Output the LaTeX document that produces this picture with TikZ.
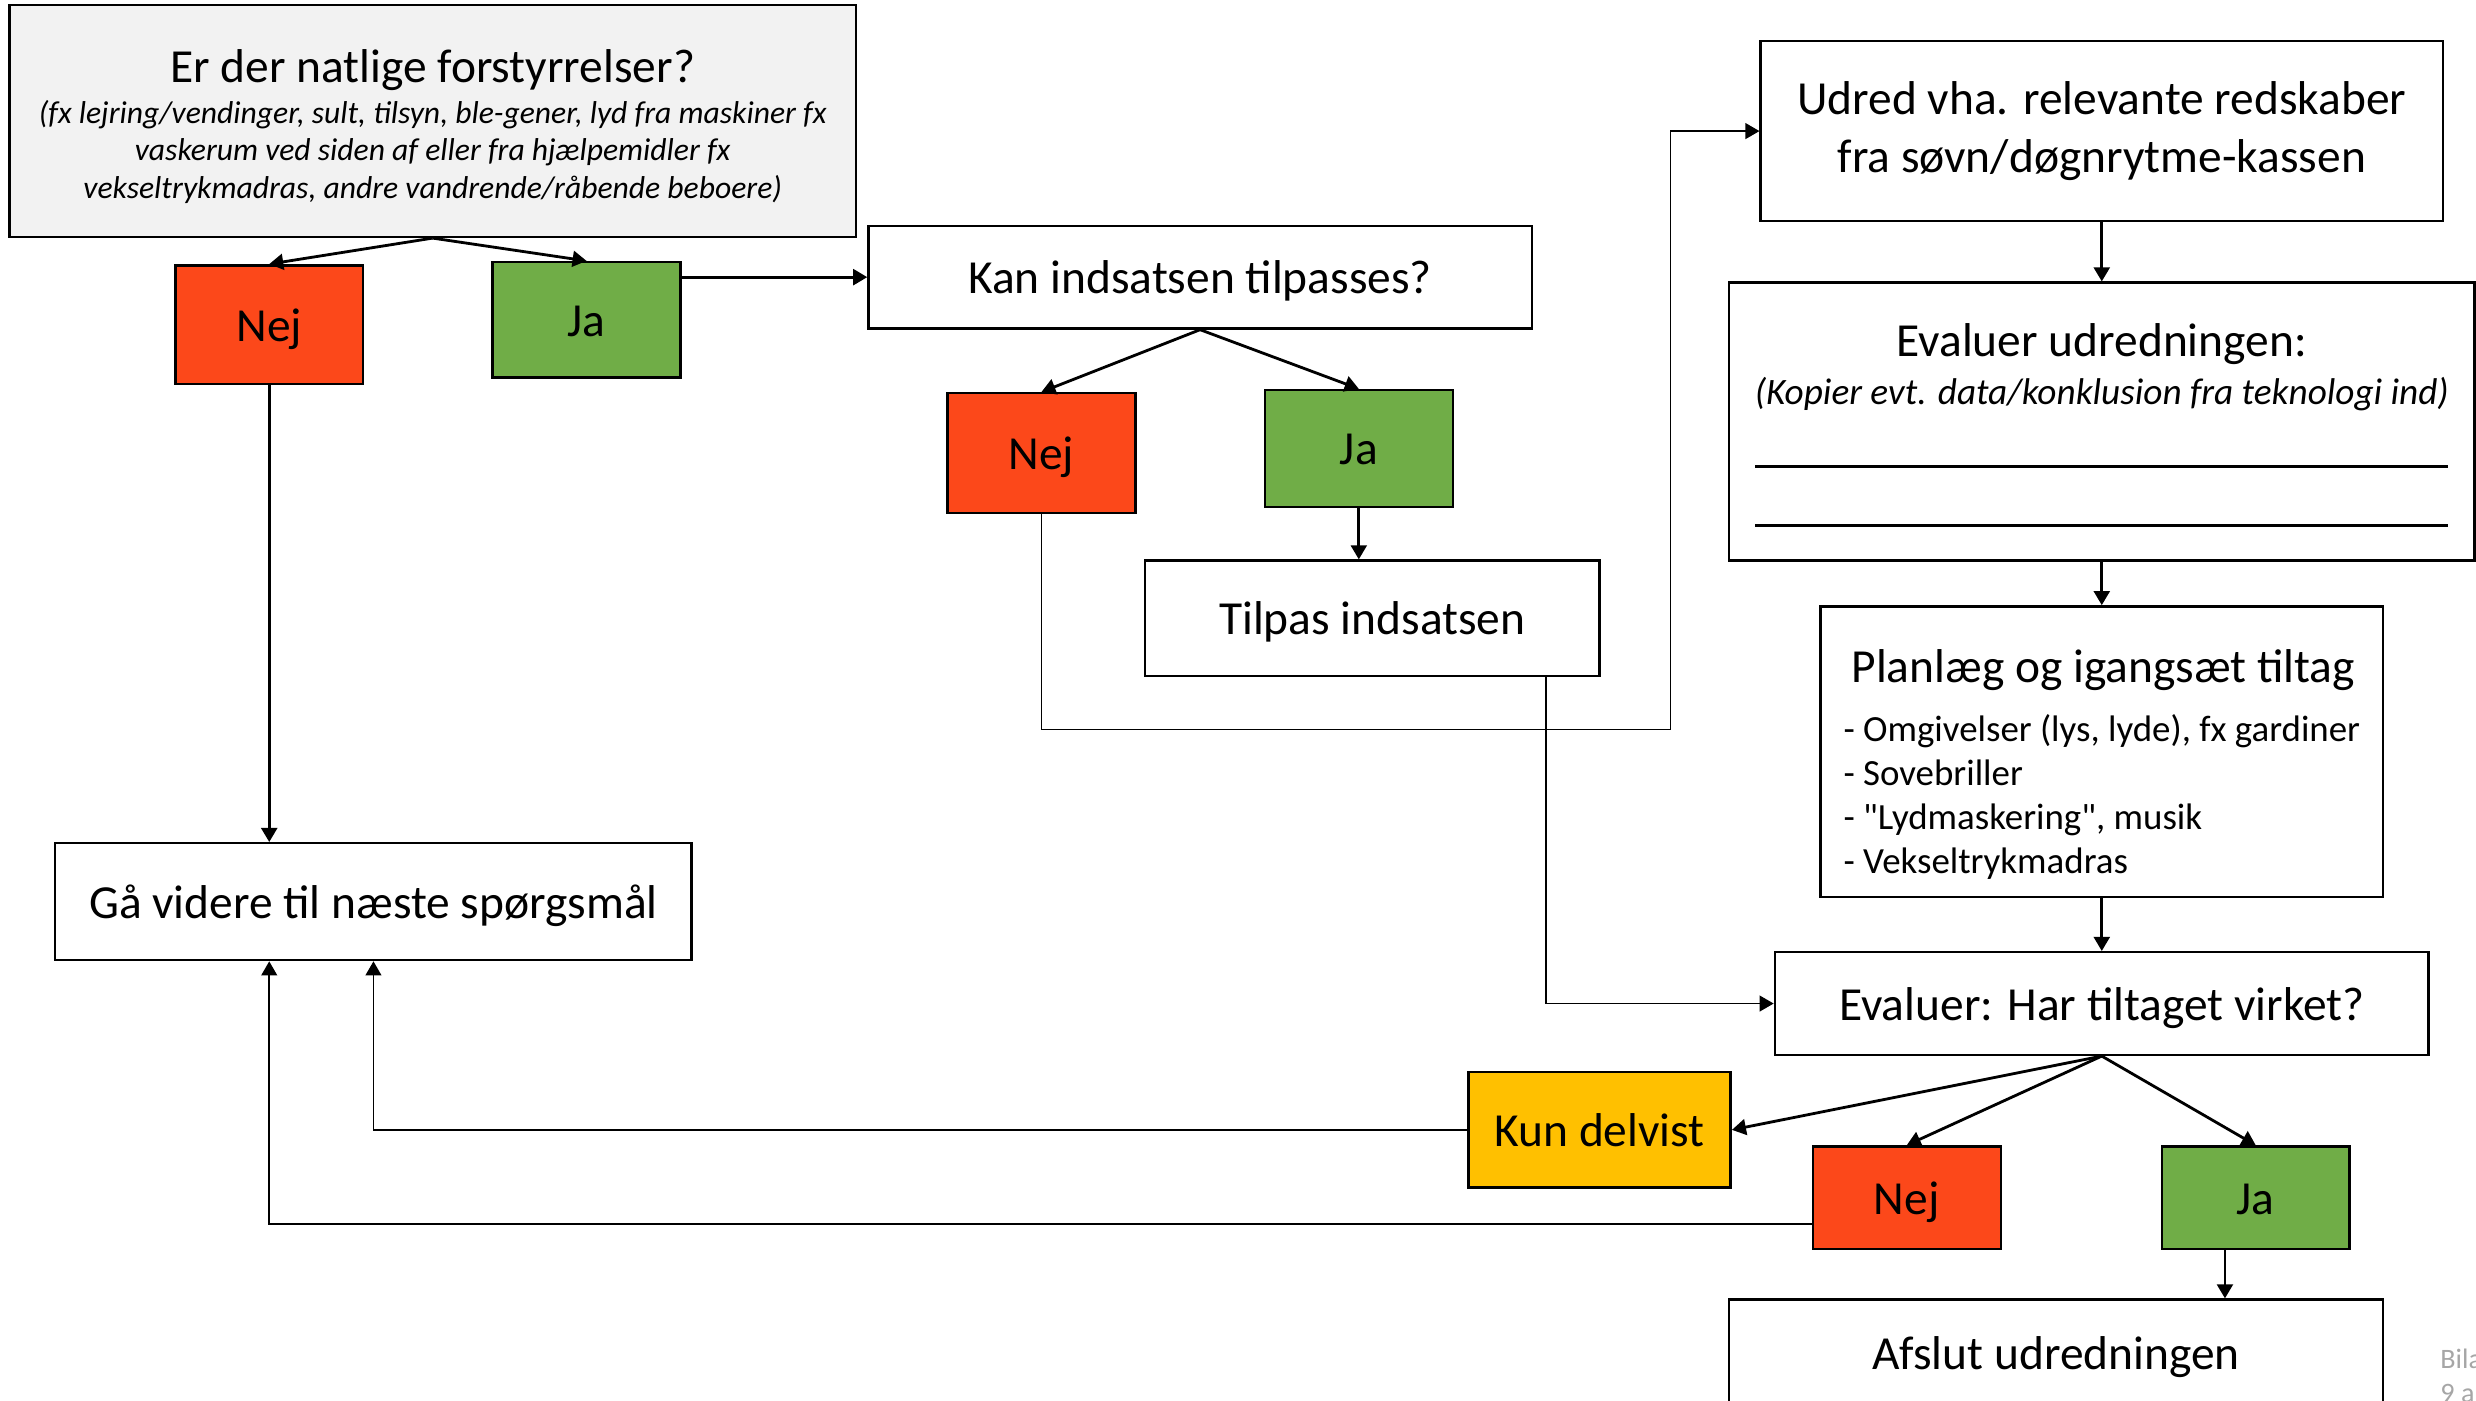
\documentclass[tikz,border=0pt]{standalone}
\usepackage{fontspec}
\setmainfont{Carlito}
\usepackage{xcolor}
\usepackage{tikz}
\usetikzlibrary{arrows.meta}

\definecolor{nejred}{RGB}{252,72,26}
\definecolor{jagreen}{RGB}{112,173,71}
\definecolor{delvistgold}{RGB}{255,192,0}
\definecolor{boxgray}{RGB}{242,242,242}
\definecolor{notegray}{RGB}{166,166,166}

\def\pxu{0.01579cm}
\newcommand\bigtxt{\fontsize{13.5}{16}\selectfont}
\newcommand\listtxt{\fontsize{10.5}{16}\selectfont}
\newcommand\ittxt{\fontsize{9}{16}\selectfont\itshape}
\newcommand\evtxt{\fontsize{10.6}{16}\selectfont\itshape}

\begin{document}
\begin{tikzpicture}[x=\pxu, y=-\pxu,
  box/.style={draw, line width=0.7pt, inner sep=0pt, align=center, font=\bigtxt},
  oneline/.style={box, text height=9.4pt, text depth=0pt},
  answer/.style={oneline, minimum width=119*\pxu},
  arr/.style={line width=0.8pt, -{Triangle[length=4pt,width=4.5pt]}},
  route/.style={line width=0.45pt}]
\useasboundingbox (0,0) rectangle (1568,887);

\node[box, fill=boxgray, minimum width=536*\pxu, minimum height=147*\pxu] (natlig) at (274,76.5) {\rule{0pt}{12.8pt}Er der natlige forstyrrelser?\\[-4.5pt]
  \ittxt (fx lejring/vendinger, sult, tilsyn, ble-gener, lyd fra maskiner fx\\[-5.2pt]
  \ittxt vaskerum ved siden af eller fra hjælpemidler fx\\[-5.2pt]
  \ittxt vekseltrykmadras, andre vandrende/råbende beboere)};
\node[answer, fill=nejred, minimum height=75*\pxu] (nej1) at (170.5,205.5) {Nej};
\node[answer, fill=jagreen, minimum height=73*\pxu] (ja1) at (371.5,202.5) {Ja};
\node[oneline, minimum width=403*\pxu, minimum height=74*\pxu] (videre) at (236.5,571) {Gå videre til næste spørgsmål};

\node[oneline, minimum width=420*\pxu, minimum height=65*\pxu] (tilpasq) at (760,175.5) {Kan indsatsen tilpasses?};
\node[answer, fill=nejred, minimum height=76*\pxu] (nej2) at (659.5,287) {Nej};
\node[answer, fill=jagreen, minimum height=74*\pxu] (ja2) at (860.5,284) {Ja};
\node[oneline, minimum width=288*\pxu, minimum height=73*\pxu] (tilpas) at (869,391.5) {Tilpas indsatsen};

\node[box, minimum width=432*\pxu, minimum height=114*\pxu] (udred) at (1331,83) {Udred vha. relevante redskaber\\[0.5pt]fra søvn/døgnrytme-kassen};
\node[box, minimum width=472*\pxu, minimum height=176*\pxu] (evudred) at (1331,267) {\rule{0pt}{11.5pt}Evaluer udredningen:\\[-2.2pt]
  \evtxt (Kopier evt. data/konklusion fra teknologi ind)\\[1.9pt]
  \rule{6.93cm}{0.9pt}\\[1pt]
  \rule{6.93cm}{0.9pt}};
\node[box, align=left, minimum width=356*\pxu, minimum height=184*\pxu] (plan) at (1331,476) {\rule{0pt}{16.6pt}\hspace*{0.08cm}Planlæg og igangsæt tiltag\\[0.9pt]
  \listtxt - Omgivelser (lys, lyde), fx gardiner\\[-3.5pt]
  \listtxt - Sovebriller\\[-3.5pt]
  \listtxt - \textquotedbl Lydmaskering\textquotedbl, musik\\[-3.5pt]
  \listtxt - Vekseltrykmadras};
\node[oneline, minimum width=414*\pxu, minimum height=65*\pxu] (evtiltag) at (1331,635.5) {Evaluer: Har tiltaget virket?};
\node[oneline, fill=delvistgold, minimum width=166*\pxu, minimum height=73*\pxu] (delvist) at (1013,715.5) {Kun delvist};
\node[answer, fill=nejred, minimum height=65*\pxu] (nej3) at (1207.5,758.5) {Nej};
\node[answer, fill=jagreen, minimum height=65*\pxu] (ja3) at (1428.5,758.5) {Ja};
\node[oneline, minimum width=414*\pxu, minimum height=68*\pxu] (afslut) at (1302,857) {Afslut udredningen};
\node[anchor=north west, inner sep=0pt, align=left, text=notegray, font=\fontsize{8}{9.5}\selectfont] (bilag) at (1545,854) {Bila\\9 a};

\coordinate (bend) at (1058,462);
\coordinate (tdrop) at (979,0);
\coordinate (jdrop) at (1409,0);
\coordinate (nrow) at (0,775);

\draw[arr] (natlig.south) -- (nej1.north);
\draw[arr] (natlig.south) -- (ja1.north);
\draw[arr] (ja1.east |- tilpasq.west) -- (tilpasq.west);
\draw[arr] (nej1.south) -- (nej1.south |- videre.north);
\draw[arr] (tilpasq.south) -- (nej2.north);
\draw[arr] (tilpasq.south) -- (ja2.north);
\draw[arr] (ja2.south) -- (ja2.south |- tilpas.north);
\draw[arr, route] (nej2.south) |- (bend) |- (udred.west);
\draw[arr, route] (tdrop |- tilpas.south) |- (evtiltag.west);
\draw[arr] (udred.south) -- (evudred.north);
\draw[arr] (evudred.south) -- (plan.north);
\draw[arr] (plan.south) -- (evtiltag.north);
\draw[arr] (evtiltag.south) -- (delvist.east);
\draw[arr] (evtiltag.south) -- (nej3.north);
\draw[arr] (evtiltag.south) -- (ja3.north);
\draw[arr] (jdrop |- ja3.south) -- (jdrop |- afslut.north);
\draw[arr, route] (delvist.west) -| (videre.south);
\draw[arr, route] (nej3.west |- nrow) -| (nej1.south |- videre.south);
\end{tikzpicture}
\end{document}
